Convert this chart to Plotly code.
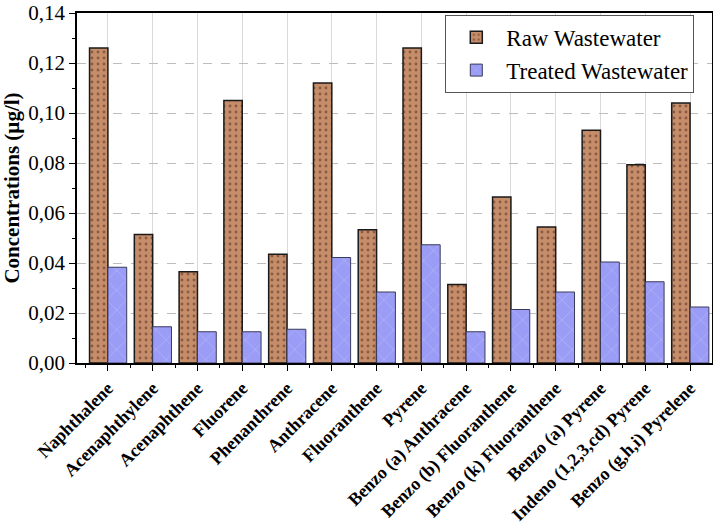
import plotly.graph_objects as go

categories = ["Naphthalene", "Acenaphthylene", "Acenaphthene", "Fluorene", "Phenanthrene",
              "Anthracene", "Fluoranthene", "Pyrene", "Benzo (a) Anthracene",
              "Benzo (b) Fluoranthene", "Benzo (k) Fluoranthene", "Benzo (a) Pyrene",
              "Indeno (1,2,3,cd) Pyrene", "Benzo (g,h,i) Pyrelene"]
raw_wastewater = [0.126, 0.0514, 0.0365, 0.105, 0.0435, 0.112, 0.0533, 0.126, 0.0314,
                  0.0664, 0.0544, 0.0931, 0.0793, 0.104]
treated_wastewater = [0.0383, 0.0145, 0.0125, 0.0125, 0.0135, 0.0422, 0.0284, 0.0473, 0.0125,
                      0.0214, 0.0284, 0.0404, 0.0325, 0.0224]
y_ticks = [0.00, 0.02, 0.04, 0.06, 0.08, 0.10, 0.12, 0.14]

FONT = "Liberation Serif, Times New Roman, serif"
xpos = list(range(len(categories)))

fig = go.Figure()
fig.add_trace(go.Bar(
    x=xpos, y=raw_wastewater, name="Raw Wastewater",
    width=0.41, offset=-0.41,
    marker=dict(color="#C68D6A", line=dict(color="#1a1a1a", width=1.5),
                pattern=dict(shape=".", fgcolor="#4a2a1a", size=6, solidity=0.18)),
))
fig.add_trace(go.Bar(
    x=xpos, y=treated_wastewater, name="Treated Wastewater",
    width=0.42, offset=0,
    marker=dict(color="#9A9CF6", line=dict(color="#3a3a5a", width=1),
                pattern=dict(shape="x", fgcolor="#ffffff", fgopacity=0.25, size=14, solidity=0.1)),
))

fig.update_layout(
    width=713, height=525,
    margin=dict(l=77, r=1, t=13, b=162, autoexpand=False),
    plot_bgcolor="white", paper_bgcolor="white",
    barmode="overlay",
    separators=", ",
    font=dict(family=FONT, color="black"),
    showlegend=True,
    legend=dict(x=0.58, y=0.995, xanchor="left", yanchor="top",
                bgcolor="white", bordercolor="#555555", borderwidth=1,
                font=dict(family=FONT, size=23, color="black"),
                itemwidth=50, tracegroupgap=0),
)
fig.update_xaxes(
    range=[-0.69, 13.49],
    automargin=False,
    tickmode="array", tickvals=xpos, ticktext=categories,
    tickangle=-45,
    tickfont=dict(family=FONT, size=18, color="black", weight="bold"),
    showline=True, linecolor="black", linewidth=1.5, mirror=True,
    ticks="outside", ticklen=6, tickwidth=1.2, tickcolor="black",
    showgrid=True, gridcolor="#d9d9d9", gridwidth=1,
    minor=dict(tickvals=[i + 0.5 for i in xpos[:-1]] + [-0.5], ticks="outside",
               ticklen=3, tickwidth=1, tickcolor="black", showgrid=False),
    zeroline=False,
)
fig.update_yaxes(
    range=[0, 0.14],
    automargin=False,
    ticklabeloverflow="allow",
    tickmode="array", tickvals=y_ticks, tickformat=".2f",
    tickfont=dict(family=FONT, size=21, color="black"),
    title=dict(text="<b>Concentrations (µg/l)</b>", font=dict(family=FONT, size=21, color="black"), standoff=6),
    showline=True, linecolor="black", linewidth=1.5, mirror=True,
    ticks="outside", ticklen=6, tickwidth=1.2, tickcolor="black",
    showgrid=True, gridcolor="#bdbdbd", gridwidth=1, griddash="dash",
    minor=dict(dtick=0.01, tick0=0, ticks="outside", ticklen=3, tickwidth=1, tickcolor="black", showgrid=False),
    zeroline=False,
)

fig.write_html("out.html", config={"displayModeBar": False},
               post_script="document.body.style.margin='0';")
